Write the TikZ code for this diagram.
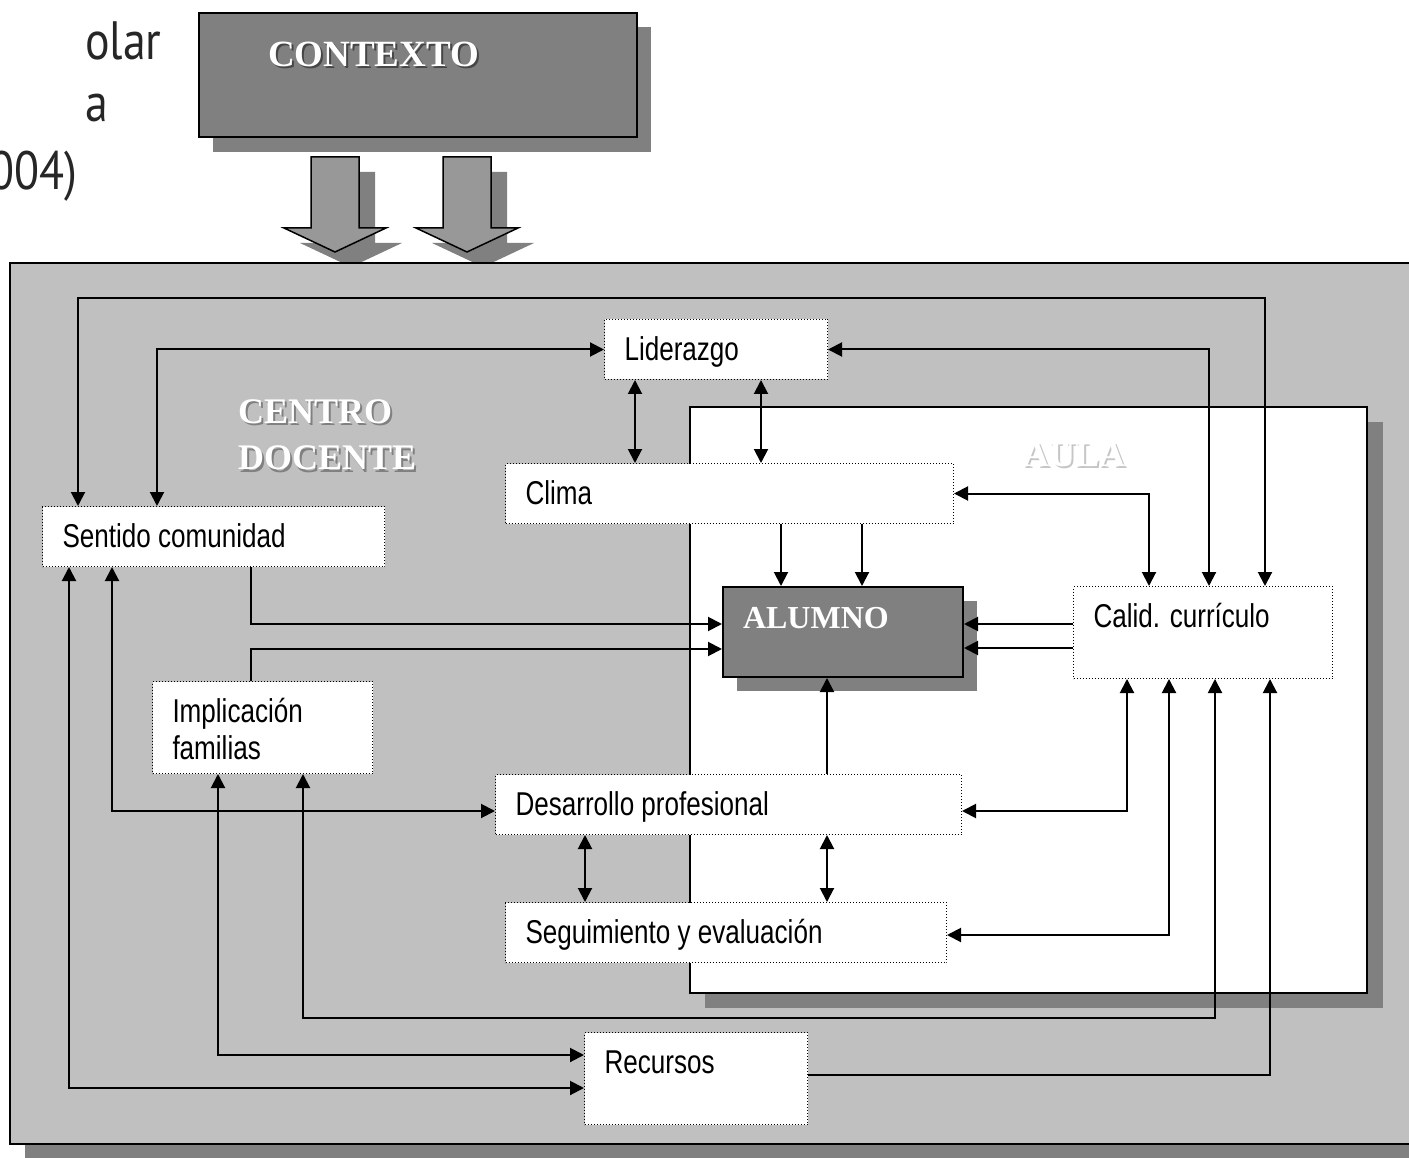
\documentclass[tikz,border=0pt]{standalone}
\usepackage{fontspec}
\setmainfont{Liberation Serif}
\newfontfamily\narrowsans[FakeStretch=0.79]{Liberation Sans}
\newfontfamily\slidesans[FakeStretch=0.85]{PT Sans}
\usepackage{tikz}
\usetikzlibrary{arrows.meta, positioning, calc}

\definecolor{fondo}{HTML}{C0C0C0}
\definecolor{sombra}{HTML}{808080}
\definecolor{grisflecha}{HTML}{989898}
\newcommand{\relieve}[2]{\makebox[0pt][l]{\hspace{2pt}\raisebox{-2pt}{\textcolor{#2}{#1}}}\textcolor{white}{#1}}

\begin{document}
\begin{tikzpicture}[x=1pt, y=1pt,
    caja/.style={draw, dotted, line width=1pt, fill=white, anchor=north west, inner xsep=20pt, inner ysep=0pt, text height=41pt, text depth=19pt, align=flush left, font=\narrowsans\fontsize{33}{37}\selectfont},
    alta/.style={text depth=51pt},
    titulo/.style={inner sep=0pt, text=black!85, font=\slidesans\fontsize{54}{62}\selectfont},
    rotulo/.style={anchor=base west, inner sep=0pt, align=flush left, font=\bfseries\fontsize{36}{47}\selectfont},
    flecha/.style={line width=2pt, -{Triangle[length=14pt, width=14pt]}},
    doble/.style={line width=2pt, {Triangle[length=14pt, width=14pt]}-{Triangle[length=14pt, width=14pt]}}]
    \useasboundingbox (0,0) rectangle (1409,-1158);
    \clip (0,0) rectangle (1409,-1158);

    \node (tit1) [titulo, anchor=base west] at (85,-60) {olar};
    \node (tit2) [titulo, anchor=base west] at (85,-122) {a};
    \node (tit3) [titulo, anchor=base east] at (78,-190) {004)};

    \fill[sombra] (213,-27) rectangle (651,-152);
    \node (ctx) [draw, line width=2pt, fill=sombra, anchor=north west, text width=300pt, inner xsep=69pt, inner ysep=0pt, text height=54pt, text depth=70pt, font=\bfseries\fontsize{37}{43}\selectfont] at (198,-12) {\relieve{CONTEXTO}{sombra!55!black}};

    \fill[sombra] (327,-172) -- (375,-172) -- (375,-243) -- (402,-243) -- (351,-267) -- (300,-243) -- (327,-243) -- cycle;
    \fill[sombra] (459,-172) -- (507,-172) -- (507,-243) -- (534,-243) -- (483,-267) -- (432,-243) -- (459,-243) -- cycle;
    \filldraw[fill=grisflecha, line width=1.5pt] (311,-157) -- (359,-157) -- (359,-228) -- (386,-228) -- (335,-252) -- (284,-228) -- (311,-228) -- cycle;
    \filldraw[fill=grisflecha, line width=1.5pt] (443,-157) -- (491,-157) -- (491,-228) -- (518,-228) -- (467,-252) -- (416,-228) -- (443,-228) -- cycle;

    \fill[sombra] (25,-278) rectangle (1430,-1170);
    \filldraw[fill=fondo, line width=2pt] (10,-263) rectangle (1420,-1144);
    \fill[sombra] (705,-422) rectangle (1383,-1008);
    \filldraw[fill=white, line width=2pt] (690,-407) rectangle (1367,-993);
    \fill[sombra] (737,-601) rectangle (977,-691);

    \node (rotcentro) [rotulo, text width=220pt] at (238,-423) {\relieve{CENTRO}{sombra}\\\relieve{DOCENTE}{sombra}};
    \node (rotaula) [rotulo] at (1023,-466) {\relieve{AULA}{gray!45}};

    \node (alumno) [draw, line width=2pt, fill=sombra, anchor=north west, text width=200pt, inner xsep=20pt, inner ysep=0pt, text height=41pt, text depth=49pt, text=white, font=\bfseries\fontsize{32}{38}\selectfont] at (722,-586) {ALUMNO};
    \node (lider) [caja, text width=183pt] at (604,-319) {Liderazgo};
    \node (clima) [caja, text width=408pt] at (505,-463) {Clima};
    \node (sentido) [caja, text width=302pt] at (42,-506) {Sentido comunidad};
    \node (calid) [caja, alta, text width=219pt] at (1073,-586) {Calid. currículo};
    \node (implic) [caja, alta, text width=180pt] at (152,-681) {Implicación\\familias};
    \node (desarr) [caja, text width=426pt] at (495,-774) {Desarrollo profesional};
    \node (segui) [caja, text width=401pt] at (505,-902) {Seguimiento y evaluación};
    \node (recursos) [caja, alta, text width=183pt] at (584,-1032) {Recursos};

    \draw[doble] (sentido.north -| 78,0) -- (78,-298) -- (1265,-298) -- (calid.north -| 1265,0);
    \draw[doble] (sentido.north -| 157,0) |- (lider.west);
    \draw[doble] (lider.east) -| (calid.north -| 1209,0);
    \draw[doble] (lider.south -| 635,0) -- (clima.north -| 635,0);
    \draw[doble] (lider.south -| 761,0) -- (clima.north -| 761,0);
    \draw[doble] (clima.east) -| (calid.north -| 1149,0);
    \draw[flecha] (clima.south -| 781,0) -- (alumno.north -| 781,0);
    \draw[flecha] (clima.south -| 862,0) -- (alumno.north -| 862,0);
    \draw[flecha] (sentido.south -| 251,0) |- (alumno.west |- 0,-624);
    \draw[flecha] (implic.north -| 251,0) |- (alumno.west |- 0,-649);
    \draw[flecha] (calid.west |- 0,-624) -- (alumno.east |- 0,-624);
    \draw[flecha] (calid.west |- 0,-648) -- (alumno.east |- 0,-648);
    \draw[flecha] (desarr.north -| 827,0) -- (alumno.south -| 827,0);
    \draw[doble] (desarr.south -| 585,0) -- (segui.north -| 585,0);
    \draw[doble] (desarr.south -| 827,0) -- (segui.north -| 827,0);
    \draw[doble] (sentido.south -| 112,0) |- (desarr.west |- 0,-811);
    \draw[doble] (calid.south -| 1127,0) |- (desarr.east |- 0,-811);
    \draw[doble] (calid.south -| 1169,0) |- (segui.east |- 0,-935);
    \draw[doble] (implic.south -| 303,0) -- (303,-1018) -| (calid.south -| 1215,0);
    \draw[doble] (implic.south -| 218,0) |- (recursos.west |- 0,-1055);
    \draw[doble] (sentido.south -| 69,0) |- (recursos.west |- 0,-1088);
    \draw[flecha] (recursos.east |- 0,-1075) -| (calid.south -| 1270,0);
\end{tikzpicture}
\end{document}
